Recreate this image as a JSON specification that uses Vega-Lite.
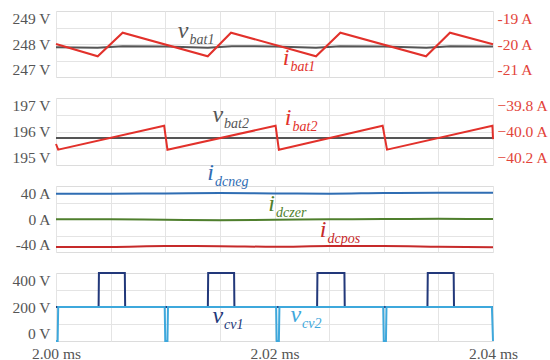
{
 "$schema":"https://vega.github.io/schema/vega-lite/v6.json",
 "padding":{"left":5,"top":10,"right":5,"bottom":5},
 "background":"white",
 "config":{
   "view":{"stroke":"#dcdcdc","strokeWidth":1},
   "axis":{"labelFont":"Liberation Serif","labelFontSize":15.5,"labelColor":"#555555","gridColor":"#e4e4e4","gridWidth":1,"ticks":false,"domain":false,"labelFlush":false,"labelOverlap":false,"labelBound":false}
 },
 "datasets":{
  "lines":[
   {"series":"vbat1","t":2.0,"v":247.876},{"series":"vbat1","t":2.0038,"v":247.853},{"series":"vbat1","t":2.0061,"v":247.915},{"series":"vbat1","t":2.01,"v":247.903},{"series":"vbat1","t":2.0139,"v":247.853},{"series":"vbat1","t":2.0161,"v":247.915},{"series":"vbat1","t":2.02,"v":247.903},{"series":"vbat1","t":2.0238,"v":247.853},{"series":"vbat1","t":2.026,"v":247.915},{"series":"vbat1","t":2.03,"v":247.903},{"series":"vbat1","t":2.0339,"v":247.853},{"series":"vbat1","t":2.0361,"v":247.915},{"series":"vbat1","t":2.04,"v":247.9},
   {"series":"ibat1","t":2.0,"v":-20.0},{"series":"ibat1","t":2.00382,"v":-20.485},{"series":"ibat1","t":2.0061,"v":-19.554},{"series":"ibat1","t":2.01389,"v":-20.485},{"series":"ibat1","t":2.01602,"v":-19.554},{"series":"ibat1","t":2.0238,"v":-20.485},{"series":"ibat1","t":2.02603,"v":-19.554},{"series":"ibat1","t":2.03387,"v":-20.485},{"series":"ibat1","t":2.03606,"v":-19.554},{"series":"ibat1","t":2.04,"v":-20.01},
   {"series":"vbat2","t":2.0,"v":195.744},{"series":"vbat2","t":2.02,"v":195.75},{"series":"vbat2","t":2.04,"v":195.75},
   {"series":"ibat2","t":2.0,"v":-40.097},{"series":"ibat2","t":2.0002,"v":-40.141},{"series":"ibat2","t":2.0099,"v":-39.956},{"series":"ibat2","t":2.0102,"v":-40.141},{"series":"ibat2","t":2.0201,"v":-39.956},{"series":"ibat2","t":2.0204,"v":-40.141},{"series":"ibat2","t":2.0299,"v":-39.956},{"series":"ibat2","t":2.0303,"v":-40.141},{"series":"ibat2","t":2.03995,"v":-39.956},{"series":"ibat2","t":2.04,"v":-40.059},
   {"series":"idcneg","t":2.0,"v":39.9},{"series":"idcneg","t":2.005,"v":39.9},{"series":"idcneg","t":2.01,"v":40.2},{"series":"idcneg","t":2.015,"v":40.8},{"series":"idcneg","t":2.02,"v":40.2},{"series":"idcneg","t":2.025,"v":39.9},{"series":"idcneg","t":2.03,"v":41.0},{"series":"idcneg","t":2.035,"v":41.4},{"series":"idcneg","t":2.04,"v":41.2},
   {"series":"idczer","t":2.0,"v":-0.5},{"series":"idczer","t":2.005,"v":-0.5},{"series":"idczer","t":2.01,"v":-1.3},{"series":"idczer","t":2.015,"v":-2.0},{"series":"idczer","t":2.02,"v":-1.2},{"series":"idczer","t":2.025,"v":-0.5},{"series":"idczer","t":2.03,"v":0.0},{"series":"idczer","t":2.035,"v":0.2},{"series":"idczer","t":2.04,"v":0.0},
   {"series":"idcpos","t":2.0,"v":-44.1},{"series":"idcpos","t":2.005,"v":-44.1},{"series":"idcpos","t":2.01,"v":-42.6},{"series":"idcpos","t":2.015,"v":-42.8},{"series":"idcpos","t":2.02,"v":-43.8},{"series":"idcpos","t":2.025,"v":-42.6},{"series":"idcpos","t":2.03,"v":-42.6},{"series":"idcpos","t":2.035,"v":-43.6},{"series":"idcpos","t":2.04,"v":-44.6},
   {"series":"vcv1","t":2.0,"v":200},{"series":"vcv1","t":2.0039,"v":200},{"series":"vcv1","t":2.00393,"v":460},{"series":"vcv1","t":2.0063,"v":460},{"series":"vcv1","t":2.00633,"v":200},{"series":"vcv1","t":2.0139,"v":200},{"series":"vcv1","t":2.01393,"v":460},{"series":"vcv1","t":2.0163,"v":460},{"series":"vcv1","t":2.01633,"v":200},{"series":"vcv1","t":2.0239,"v":200},{"series":"vcv1","t":2.02393,"v":460},{"series":"vcv1","t":2.0264,"v":460},{"series":"vcv1","t":2.02643,"v":200},{"series":"vcv1","t":2.034,"v":200},{"series":"vcv1","t":2.03403,"v":460},{"series":"vcv1","t":2.0364,"v":460},{"series":"vcv1","t":2.03643,"v":200},{"series":"vcv1","t":2.04,"v":200},
   {"series":"vcv2","t":2.0,"v":-60},{"series":"vcv2","t":2.00015,"v":-60},{"series":"vcv2","t":2.0002,"v":200},{"series":"vcv2","t":2.00995,"v":200},{"series":"vcv2","t":2.01,"v":-60},{"series":"vcv2","t":2.0102,"v":-60},{"series":"vcv2","t":2.01025,"v":200},{"series":"vcv2","t":2.02015,"v":200},{"series":"vcv2","t":2.0202,"v":-60},{"series":"vcv2","t":2.0204,"v":-60},{"series":"vcv2","t":2.02045,"v":200},{"series":"vcv2","t":2.02995,"v":200},{"series":"vcv2","t":2.03,"v":-60},{"series":"vcv2","t":2.0302,"v":-60},{"series":"vcv2","t":2.03025,"v":200},{"series":"vcv2","t":2.0399,"v":200},{"series":"vcv2","t":2.04,"v":-60}
  ],
  "labels":[
   {"series":"vbat1","t":2.01213,"v":248.25,"main":"v","sub":"bat1"},
   {"series":"ibat1","t":2.02137,"v":-20.834,"main":"i","sub":"bat1"},
   {"series":"vbat2","t":2.01529,"v":196.37,"main":"v","sub":"bat2"},
   {"series":"ibat2","t":2.02156,"v":-39.949,"main":"i","sub":"bat2"},
   {"series":"idcneg","t":2.01446,"v":61,"main":"i","sub":"dcneg"},
   {"series":"idczer","t":2.02005,"v":12.1,"main":"i","sub":"dczer"},
   {"series":"idcpos","t":2.02476,"v":-28.4,"main":"i","sub":"dcpos"},
   {"series":"vcv1","t":2.01529,"v":75,"main":"v","sub":"cv1"},
   {"series":"vcv2","t":2.02243,"v":87.6,"main":"v","sub":"cv2"}
  ]
 },
 "bounds":"flush",
 "spacing":21,
 "vconcat":[
   {"width":437,"height":66,
    "encoding":{"x":{"field":"t","type":"quantitative","title":null,"scale":{"domain":[2.0,2.04],"nice":false,"zero":false},"axis":{"values":[2.0,2.005,2.01,2.015,2.02,2.025,2.03,2.035,2.04],"labels":false,"grid":true,"ticks":false,"domain":false,"gridColor":"#e4e4e4"}}},
    "layer":[
     {"encoding":{
       "y":{"field":"v","type":"quantitative","title":null,"scale":{"domain":[246.7,249.3],"nice":false,"zero":false},"axis":{"orient":"left","values":[247,247.35,248,248.65,249],"labelExpr":"(datum.value==247||datum.value==248||datum.value==249) ? datum.value + ' V' : ''","gridOpacity":{"condition":{"test":"datum.value!=247 && datum.value!=249","value":1},"value":0},"minExtent":50,"maxExtent":50,"labelPadding":6,"labelFont":"Liberation Serif","labelFontSize":15.5,"labelColor":"#555555","ticks":false,"domain":false,"gridColor":"#e4e4e4"}},
       "color":{"field":"series","type":"nominal","legend":null,"scale":{"domain":["vbat1","ibat1","vbat2","ibat2","idcneg","idczer","idcpos","vcv1","vcv2"],"range":["#555555","#e2312b","#555555","#e2312b","#2f6db3","#4f7f2d","#c62a2a","#22387a","#3ea8dc"]}}},
      "layer":[
       {"data":{"name":"lines"},"transform":[{"filter":"datum.series=='vbat1'"}],"mark":{"type":"line","strokeWidth":2}},
       {"data":{"name":"labels"},"transform":[{"filter":"datum.series=='vbat1'"}],"mark":{"type":"text","font":"Liberation Serif","fontStyle":"italic","fontSize":24,"align":"right","baseline":"alphabetic"},"encoding":{"text":{"field":"main"}}},
       {"data":{"name":"labels"},"transform":[{"filter":"datum.series=='vbat1'"}],"mark":{"type":"text","font":"Liberation Serif","fontStyle":"italic","fontSize":14,"align":"left","baseline":"alphabetic","dx":1,"dy":6},"encoding":{"text":{"field":"sub"}}}
      ]},
     {"encoding":{
       "y":{"field":"v","type":"quantitative","title":null,"scale":{"domain":[-21.3,-18.7],"nice":false,"zero":false},"axis":{"orient":"right","values":[-21,-20,-19],"labelExpr":"datum.value + ' A'","grid":false,"labelColor":"#e2443a","minExtent":53,"maxExtent":53,"labelPadding":4,"labelFont":"Liberation Serif","labelFontSize":15.5,"ticks":false,"domain":false}},
       "color":{"field":"series","type":"nominal","legend":null,"scale":{"domain":["vbat1","ibat1","vbat2","ibat2","idcneg","idczer","idcpos","vcv1","vcv2"],"range":["#555555","#e2312b","#555555","#e2312b","#2f6db3","#4f7f2d","#c62a2a","#22387a","#3ea8dc"]}}},
      "layer":[
       {"data":{"name":"lines"},"transform":[{"filter":"datum.series=='ibat1'"}],"mark":{"type":"line","strokeWidth":2}},
       {"data":{"name":"labels"},"transform":[{"filter":"datum.series=='ibat1'"}],"mark":{"type":"text","font":"Liberation Serif","fontStyle":"italic","fontSize":24,"align":"right","baseline":"alphabetic"},"encoding":{"text":{"field":"main"}}},
       {"data":{"name":"labels"},"transform":[{"filter":"datum.series=='ibat1'"}],"mark":{"type":"text","font":"Liberation Serif","fontStyle":"italic","fontSize":14,"align":"left","baseline":"alphabetic","dx":1,"dy":6},"encoding":{"text":{"field":"sub"}}}
      ]}
    ],
    "resolve":{"scale":{"y":"independent"}}
   },
   {"width":437,"height":67,
    "encoding":{"x":{"field":"t","type":"quantitative","title":null,"scale":{"domain":[2.0,2.04],"nice":false,"zero":false},"axis":{"values":[2.0,2.005,2.01,2.015,2.02,2.025,2.03,2.035,2.04],"labels":false,"grid":true,"ticks":false,"domain":false,"gridColor":"#e4e4e4"}}},
    "layer":[
     {"encoding":{
       "y":{"field":"v","type":"quantitative","title":null,"scale":{"domain":[194.7,197.3],"nice":false,"zero":false},"axis":{"orient":"left","values":[195,195.35,196,196.65,197],"labelExpr":"(datum.value==195||datum.value==196||datum.value==197) ? datum.value + ' V' : ''","gridOpacity":{"condition":{"test":"datum.value!=195 && datum.value!=197","value":1},"value":0},"minExtent":50,"maxExtent":50,"labelPadding":6,"labelFont":"Liberation Serif","labelFontSize":15.5,"labelColor":"#555555","ticks":false,"domain":false,"gridColor":"#e4e4e4"}},
       "color":{"field":"series","type":"nominal","legend":null,"scale":{"domain":["vbat1","ibat1","vbat2","ibat2","idcneg","idczer","idcpos","vcv1","vcv2"],"range":["#555555","#e2312b","#555555","#e2312b","#2f6db3","#4f7f2d","#c62a2a","#22387a","#3ea8dc"]}}},
      "layer":[
       {"data":{"name":"lines"},"transform":[{"filter":"datum.series=='vbat2'"}],"mark":{"type":"line","strokeWidth":2}},
       {"data":{"name":"labels"},"transform":[{"filter":"datum.series=='vbat2'"}],"mark":{"type":"text","font":"Liberation Serif","fontStyle":"italic","fontSize":24,"align":"right","baseline":"alphabetic"},"encoding":{"text":{"field":"main"}}},
       {"data":{"name":"labels"},"transform":[{"filter":"datum.series=='vbat2'"}],"mark":{"type":"text","font":"Liberation Serif","fontStyle":"italic","fontSize":14,"align":"left","baseline":"alphabetic","dx":1,"dy":6},"encoding":{"text":{"field":"sub"}}}
      ]},
     {"encoding":{
       "y":{"field":"v","type":"quantitative","title":null,"scale":{"domain":[-40.26,-39.74],"nice":false,"zero":false},"axis":{"orient":"right","values":[-40.2,-40,-39.8],"labelExpr":"format(datum.value,'.1f') + ' A'","grid":false,"labelColor":"#e2443a","minExtent":53,"maxExtent":53,"labelPadding":4,"labelFont":"Liberation Serif","labelFontSize":15.5,"ticks":false,"domain":false}},
       "color":{"field":"series","type":"nominal","legend":null,"scale":{"domain":["vbat1","ibat1","vbat2","ibat2","idcneg","idczer","idcpos","vcv1","vcv2"],"range":["#555555","#e2312b","#555555","#e2312b","#2f6db3","#4f7f2d","#c62a2a","#22387a","#3ea8dc"]}}},
      "layer":[
       {"data":{"name":"lines"},"transform":[{"filter":"datum.series=='ibat2'"}],"mark":{"type":"line","strokeWidth":2}},
       {"data":{"name":"labels"},"transform":[{"filter":"datum.series=='ibat2'"}],"mark":{"type":"text","font":"Liberation Serif","fontStyle":"italic","fontSize":24,"align":"right","baseline":"alphabetic"},"encoding":{"text":{"field":"main"}}},
       {"data":{"name":"labels"},"transform":[{"filter":"datum.series=='ibat2'"}],"mark":{"type":"text","font":"Liberation Serif","fontStyle":"italic","fontSize":14,"align":"left","baseline":"alphabetic","dx":1,"dy":6},"encoding":{"text":{"field":"sub"}}}
      ]}
    ],
    "resolve":{"scale":{"y":"independent"}}
   },
   {"width":437,"height":66,
    "encoding":{
     "x":{"field":"t","type":"quantitative","title":null,"scale":{"domain":[2.0,2.04],"nice":false,"zero":false},"axis":{"values":[2.0,2.005,2.01,2.015,2.02,2.025,2.03,2.035,2.04],"labels":false,"grid":true,"ticks":false,"domain":false,"gridColor":"#e4e4e4"}},
     "y":{"field":"v","type":"quantitative","title":null,"scale":{"domain":[-52,52],"nice":false,"zero":false},"axis":{"orient":"left","values":[-40,-26,0,26,40],"labelExpr":"(datum.value==26||datum.value==-26) ? '' : datum.value + ' A'","gridOpacity":{"condition":{"test":"datum.value!=40 && datum.value!=-40","value":1},"value":0},"minExtent":50,"maxExtent":50,"labelPadding":6,"labelFont":"Liberation Serif","labelFontSize":15.5,"labelColor":"#555555","ticks":false,"domain":false,"gridColor":"#e4e4e4"}},
     "color":{"field":"series","type":"nominal","legend":null,"scale":{"domain":["vbat1","ibat1","vbat2","ibat2","idcneg","idczer","idcpos","vcv1","vcv2"],"range":["#555555","#e2312b","#555555","#e2312b","#2f6db3","#4f7f2d","#c62a2a","#22387a","#3ea8dc"]}}},
    "layer":[
     {"data":{"name":"lines"},"transform":[{"filter":"datum.series=='idcneg'||datum.series=='idczer'||datum.series=='idcpos'"}],"mark":{"type":"line","strokeWidth":2,"interpolate":"monotone"}},
     {"data":{"name":"labels"},"transform":[{"filter":"datum.series=='idcneg'||datum.series=='idczer'||datum.series=='idcpos'"}],"mark":{"type":"text","font":"Liberation Serif","fontStyle":"italic","fontSize":24,"align":"right","baseline":"alphabetic"},"encoding":{"text":{"field":"main"}}},
     {"data":{"name":"labels"},"transform":[{"filter":"datum.series=='idcneg'||datum.series=='idczer'||datum.series=='idcpos'"}],"mark":{"type":"text","font":"Liberation Serif","fontStyle":"italic","fontSize":14,"align":"left","baseline":"alphabetic","dx":1,"dy":6},"encoding":{"text":{"field":"sub"}}}
    ]
   },
   {"width":437,"height":68,
    "encoding":{
     "x":{"field":"t","type":"quantitative","title":null,"scale":{"domain":[2.0,2.04],"nice":false,"zero":false},"axis":{"values":[2.0,2.005,2.01,2.015,2.02,2.025,2.03,2.035,2.04],"labels":true,"grid":true,"labelPadding":5,"labelFont":"Liberation Serif","labelFontSize":15.5,"labelColor":"#555555","ticks":false,"domain":false,"gridColor":"#e4e4e4","labelExpr":"(abs(datum.value-2.0)<1e-6 || abs(datum.value-2.02)<1e-6 || abs(datum.value-2.04)<1e-6) ? format(datum.value,'.2f') + ' ms' : ''"}},
     "y":{"field":"v","type":"quantitative","title":null,"scale":{"domain":[-60,460],"nice":false,"zero":false},"axis":{"orient":"left","values":[0,70,200,330,400],"labelExpr":"(datum.value==70||datum.value==330) ? '' : datum.value + ' V'","gridOpacity":{"condition":{"test":"datum.value!=0 && datum.value!=400","value":1},"value":0},"minExtent":50,"maxExtent":50,"labelPadding":6,"labelFont":"Liberation Serif","labelFontSize":15.5,"labelColor":"#555555","ticks":false,"domain":false,"gridColor":"#e4e4e4"}},
     "color":{"field":"series","type":"nominal","legend":null,"scale":{"domain":["vbat1","ibat1","vbat2","ibat2","idcneg","idczer","idcpos","vcv1","vcv2"],"range":["#555555","#e2312b","#555555","#e2312b","#2f6db3","#4f7f2d","#c62a2a","#22387a","#3ea8dc"]}}},
    "layer":[
     {"data":{"name":"lines"},"transform":[{"filter":"datum.series=='vcv1'"}],"mark":{"type":"line","strokeWidth":2}},
     {"data":{"name":"lines"},"transform":[{"filter":"datum.series=='vcv2'"}],"mark":{"type":"line","strokeWidth":2}},
     {"data":{"name":"labels"},"transform":[{"filter":"datum.series=='vcv1'||datum.series=='vcv2'"}],"mark":{"type":"text","font":"Liberation Serif","fontStyle":"italic","fontSize":24,"align":"right","baseline":"alphabetic"},"encoding":{"text":{"field":"main"}}},
     {"data":{"name":"labels"},"transform":[{"filter":"datum.series=='vcv1'||datum.series=='vcv2'"}],"mark":{"type":"text","font":"Liberation Serif","fontStyle":"italic","fontSize":14,"align":"left","baseline":"alphabetic","dx":1,"dy":6},"encoding":{"text":{"field":"sub"}}}
    ]
   }
 ]
}
